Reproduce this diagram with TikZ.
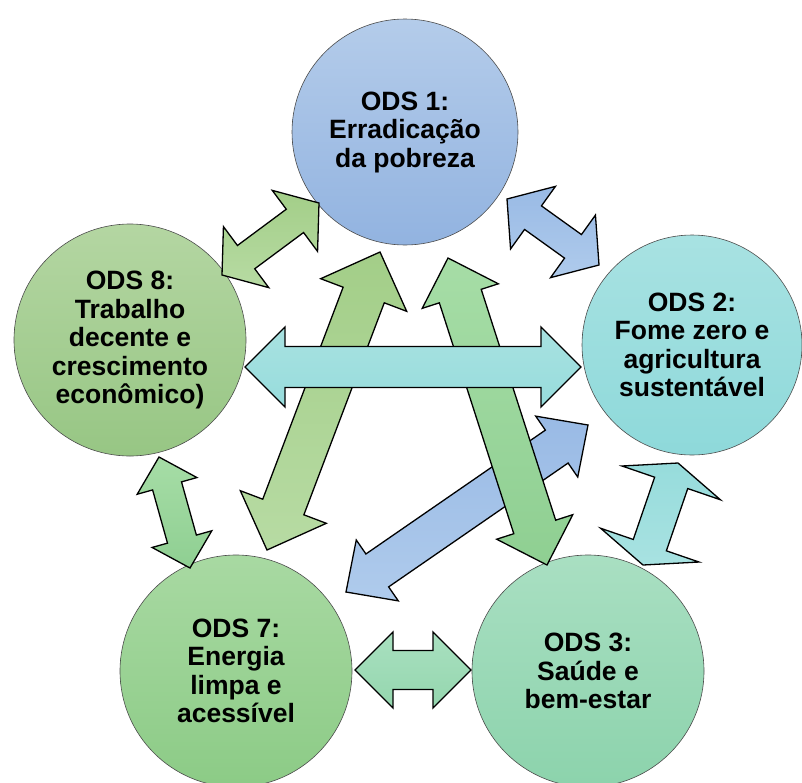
\documentclass[tikz,border=0pt]{standalone}
\usepackage{fontspec}
\setmainfont{Liberation Sans}
\usetikzlibrary{calc}

\definecolor{odsonetop}{HTML}{B4CCEA}
\definecolor{odsonebot}{HTML}{92B3E0}
\definecolor{odstwotop}{HTML}{A8E2E2}
\definecolor{odstwobot}{HTML}{8ED9DA}
\definecolor{odsthreetop}{HTML}{A9DFC2}
\definecolor{odsthreebot}{HTML}{8CD3AC}
\definecolor{odsseventop}{HTML}{A8D9A2}
\definecolor{odssevenbot}{HTML}{8CCB86}
\definecolor{odseighttop}{HTML}{B4D6A2}
\definecolor{odseightbot}{HTML}{97C684}

\definecolor{olivea}{HTML}{B7DBA3}
\definecolor{oliveb}{HTML}{A3CE88}
\definecolor{bluea}{HTML}{AFCBEC}
\definecolor{blueb}{HTML}{99BAE5}
\definecolor{cyana}{HTML}{A8E2E1}
\definecolor{cyanb}{HTML}{97DCDC}
\definecolor{greena}{HTML}{A6DDA6}
\definecolor{greenb}{HTML}{8FCF92}
\definecolor{minta}{HTML}{A9E0C0}
\definecolor{mintb}{HTML}{94D6AE}

\tikzset{
  ods/.style={circle, draw=gray!60!black, line width=0.6pt, inner sep=0pt,
    minimum size=#1, align=center,
    font=\bfseries\fontsize{26.5}{28.5}\selectfont},
  link/.style={draw=black, line width=1.3pt, line join=miter}
}

% double block arrow: from, to, head length, head half width, shaft half width, fill
\newcommand{\odsarrow}[6]{%
  \draw[link, #6] (#1)
    -- ($(#1)!#3!(#2)!#4!90:(#2)$) -- ($(#1)!#3!(#2)!#5!90:(#2)$)
    -- ($(#2)!#3!(#1)!#5!-90:(#1)$) -- ($(#2)!#3!(#1)!#4!-90:(#1)$)
    -- (#2)
    -- ($(#2)!#3!(#1)!#4!90:(#1)$) -- ($(#2)!#3!(#1)!#5!90:(#1)$)
    -- ($(#1)!#3!(#2)!#5!-90:(#2)$) -- ($(#1)!#3!(#2)!#4!-90:(#2)$)
    -- cycle;
}

\begin{document}
\begin{tikzpicture}[x=1pt, y=-1pt]
  \useasboundingbox (0,0) rectangle (802,782);
  \clip (0,0) rectangle (802,782);

  % Circles
  \node[ods=226pt, top color=odsonetop, bottom color=odsonebot] (ods1) at (405,132)
    {ODS 1:\\Erradicação\\da pobreza};
  \node[ods=220pt, top color=odstwotop, bottom color=odstwobot] (ods2) at (692,345)
    {ODS 2:\\Fome zero e\\agricultura\\sustentável};
  \node[ods=232pt, top color=odsthreetop, bottom color=odsthreebot] (ods3) at (588,671)
    {ODS 3:\\Saúde e\\bem-estar};
  \node[ods=232pt, top color=odsseventop, bottom color=odssevenbot] (ods7) at (236,671)
    {ODS 7:\\Energia\\limpa e\\acessível};
  \node[ods=232pt, top color=odseighttop, bottom color=odseightbot] (ods8) at (130,340)
    {ODS 8:\\Trabalho\\decente e\\crescimento\\econômico)};

  % Arrow ends
  \coordinate (a8) at (222,275);  \coordinate (a1) at (319,203);
  \coordinate (b1) at (507,199);  \coordinate (b2) at (599,265);
  \coordinate (c8) at (245,367);  \coordinate (c2) at (581,367);
  \coordinate (d7) at (267,550);  \coordinate (d1) at (380,252);
  \coordinate (e1) at (448,258);  \coordinate (e3) at (547,565);
  \coordinate (f7) at (346,592);  \coordinate (f2) at (588,425);
  \coordinate (g8) at (159,457);  \coordinate (g7) at (190,568);
  \coordinate (h3) at (643,565);  \coordinate (h2) at (678,463);
  \coordinate (i7) at (355,670);  \coordinate (i3) at (471,670);

  % Arrows
  \odsarrow{a8}{a1}{30pt}{38pt}{14.5pt}{top color=oliveb, bottom color=olivea}
  \odsarrow{b1}{b2}{32pt}{38.5pt}{14.5pt}{top color=blueb, bottom color=bluea}
  \odsarrow{g8}{g7}{30pt}{31pt}{15pt}{top color=greena, bottom color=greenb}
  \odsarrow{h3}{h2}{21pt}{52pt}{17.5pt}{top color=cyanb, bottom color=cyana}
  \odsarrow{i7}{i3}{38pt}{38pt}{19.5pt}{top color=minta, bottom color=mintb}
  \odsarrow{f7}{f2}{38pt}{37pt}{20pt}{top color=blueb, bottom color=bluea}
  \odsarrow{d7}{d1}{46pt}{46pt}{22pt}{top color=oliveb, bottom color=olivea}
  \odsarrow{e1}{e3}{40pt}{40pt}{22pt}{top color=greena, bottom color=greenb}
  \odsarrow{c8}{c2}{40pt}{40pt}{20.5pt}{top color=cyana, bottom color=cyanb}
\end{tikzpicture}
\end{document}
